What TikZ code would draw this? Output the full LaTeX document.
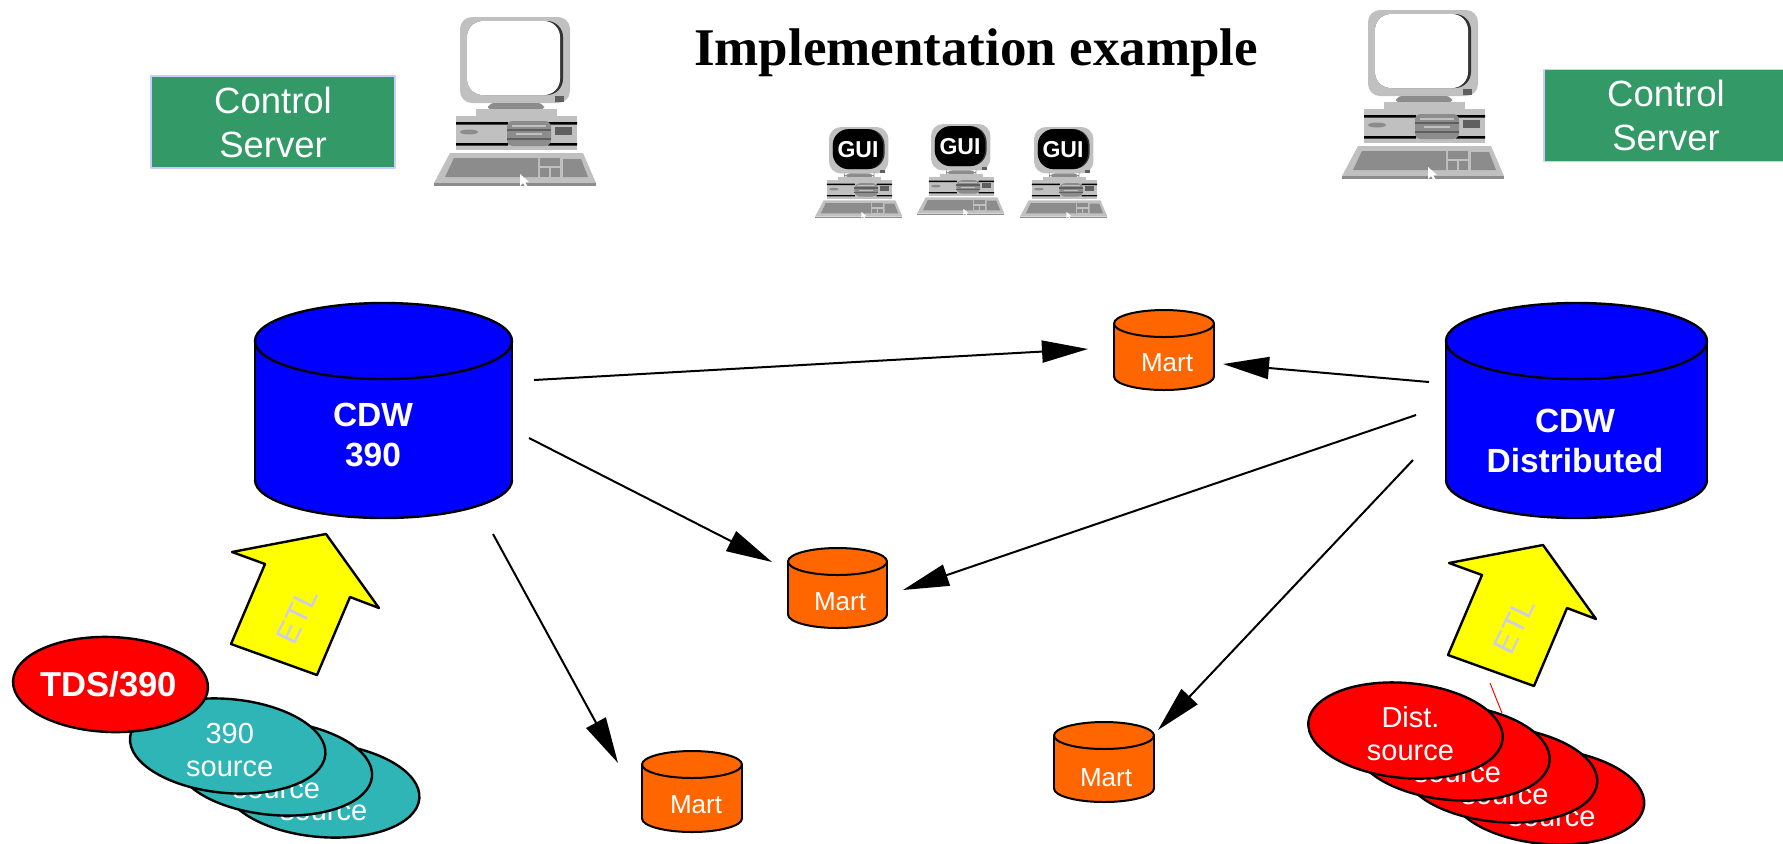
\documentclass[tikz,border=0pt]{standalone}
\usepackage{fontspec}
\setmainfont{Liberation Sans}
\newfontfamily\titlefont{Liberation Serif}
\usetikzlibrary{arrows.meta}

\definecolor{srvgreen}{HTML}{339966}
\definecolor{srvedge}{HTML}{CCCCFF}
\definecolor{dbblue}{HTML}{0000FF}
\definecolor{martorange}{HTML}{FF6600}
\definecolor{srcteal}{HTML}{2FB5B5}
\definecolor{srcred}{HTML}{FF0000}
\definecolor{etlyellow}{HTML}{FFFF00}
\definecolor{etltext}{HTML}{CCCCEE}
\definecolor{pclight}{HTML}{C0C0C0}
\definecolor{pcmid}{HTML}{8C8C8C}
\definecolor{pcdark}{HTML}{5F5F5F}

\tikzset{
  % desktop computer, origin at the top-left corner of the monitor
  pics/pc/.style={code={
    \fill[pclight, rounded corners=6] (0,0) rectangle (110,86);
    \fill[black!80, rounded corners=8] (7,4) rectangle (103,78);
    \fill[#1, rounded corners=8] (7,4) rectangle (100,78);
    \fill[pcdark] (95,79) rectangle (104,85);
    \fill[pcmid, rounded corners=3] (28,86) rectangle (84,94);
    \fill[pclight] (16,92) rectangle (97,99);
    \fill[pclight] (-4,99) rectangle (117,133);
    \fill[black] (-4,105) rectangle (48,107.5) (88,105) rectangle (117,107.5)
                 (-4,126) rectangle (48,128.5) (88,126) rectangle (117,128.5);
    \fill[pcmid, rounded corners=3] (47,104) rectangle (91,129);
    \fill[pclight] (52,108) rectangle (86,110);
    \fill[pcdark] (47,112) rectangle (91,114);
    \fill[pclight] (56,116) rectangle (82,118);
    \fill[pcdark] (47,121) rectangle (91,122.5);
    \fill[pcmid] (9,115) ellipse [x radius=9, y radius=2.5];
    \fill[pcdark] (95,110) rectangle (112,118);
    \fill[pclight] (-10,136) -- (123,136) -- (136,166) -- (-26,166) -- cycle;
    \fill[pcmid] (-26,166) rectangle (136,169);
    \fill[pcmid] (-6,141) -- (78,141) -- (78,160) -- (-15,160) -- cycle;
    \fill[pcmid] (80,141) rectangle (100,160);
    \fill[pcmid] (103,142) -- (121,142) -- (128,160) -- (103,160) -- cycle;
    \draw[pclight, line width=0.6pt] (80,150) -- (100,150) (90,150) -- (90,160);
    \fill[white] (60,157) -- (60,169) -- (63,166) -- (66,171) -- (68,170)
                 -- (65,165) -- (69,165) -- cycle;
  }},
  % database cylinder: x radius, y radius, body height, fill colour
  pics/db/.style n args={4}{code={
    \fill[#4] (-#1,0) rectangle (#1,#3);
    \fill[#4] (0,#3) ellipse [x radius=#1, y radius=#2];
    \begin{scope}
      \clip (-#1-4,#3) rectangle (#1+4,#3+#2+4);
      \draw (0,#3) ellipse [x radius=#1, y radius=#2];
    \end{scope}
    \draw (-#1,0) -- (-#1,#3) (#1,0) -- (#1,#3);
    \filldraw[fill=#4] (0,0) ellipse [x radius=#1, y radius=#2];
  }},
  srvbox/.style={fill=srvgreen, draw=srvedge, line width=0.6pt,
    minimum width=122pt, minimum height=46pt, text=white, align=center,
    font=\fontsize{18.25}{22}\selectfont},
  dblabel/.style={text=white, align=center,
    font=\bfseries\fontsize{16.75}{20}\selectfont},
  martlabel/.style={text=white, font=\fontsize{13}{15}\selectfont},
  srclabel/.style={text=white, align=center,
    font=\fontsize{14.5}{16.5}\selectfont},
  etllabel/.style={text=etltext, rotate=64, font=\fontsize{15.5}{17}\selectfont},
  guilabel/.style={text=white, font=\bfseries\fontsize{11.5}{13}\selectfont},
  conn/.style={line width=1pt, -{Triangle[length=23pt,width=11pt]}},
  blockarrow/.style={fill=etlyellow, draw=black, line width=1.2pt},
  srcshape/.style={draw=black, line width=1.2pt},
}

\begin{document}
\begin{tikzpicture}[x=0.5pt, y=-0.5pt, line join=round]
\useasboundingbox (0,0) rectangle (1783,843);
\clip (0,0) rectangle (1783,843);

% title and control servers
\node (title) at (976,53)
  {\titlefont\bfseries\fontsize{26.5}{30}\selectfont Implementation example};
\node[srvbox] (csleft) at (273,122) {Control\\Server};
\node[srvbox] (csright) at (1666,115.5) {Control\\Server};

% computers
\pic (pcleft) at (460,17) {pc=white};
\pic (pcright) at (1368,10) {pc=white};
\pic[scale=0.54] (gui1) at (829,127) {pc=black};
\pic[scale=0.54] (gui2) at (931,124) {pc=black};
\pic[scale=0.54] (gui3) at (1034,127) {pc=black};
\foreach \n/\x/\y in {g1/858/150, g2/960/147, g3/1063/150}
  \node[guilabel] (\n) at (\x,\y) {GUI};

% connector end points
\coordinate (s1) at (534,380);  \coordinate (t1) at (1088,349);
\coordinate (s2) at (1429,382); \coordinate (t2) at (1223,364);
\coordinate (s3) at (529,438);  \coordinate (t3) at (772,562);
\coordinate (s4) at (1416,415); \coordinate (t4) at (903,590);
\coordinate (s5) at (493,534);  \coordinate (t5) at (618,763);
\coordinate (s6) at (1413,460); \coordinate (t6) at (1158,730);
\draw[conn] (s1) -- (t1);
\draw[conn] (s2) -- (t2);
\draw[conn] (s3) -- (t3);
\draw[conn] (s4) -- (t4);
\draw[conn] (s5) -- (t5);
\draw[conn] (s6) -- (t6);

% central warehouses
\pic[line width=1.2pt] (cdw390) at (383.5,341) {db={128.5}{38}{139}{dbblue}};
\pic[line width=1.2pt] (cdwdist) at (1576.5,341) {db={130.5}{38}{139}{dbblue}};
\node[dblabel] (lcdw390) at (373,435) {CDW\\390};
\node[dblabel] (lcdwdist) at (1575,441) {CDW\\Distributed};

% data marts
\pic[line width=1pt] (mart1) at (1164,323.5) {db={50}{13.5}{53}{martorange}};
\pic[line width=1pt] (mart2) at (837.5,561.5) {db={49.5}{13.5}{53}{martorange}};
\pic[line width=1pt] (mart3) at (692,764.5) {db={50}{13.5}{54}{martorange}};
\pic[line width=1pt] (mart4) at (1104,735.5) {db={50}{13.5}{53}{martorange}};
\node[martlabel] (lmart1) at (1167,363) {Mart};
\node[martlabel] (lmart2) at (840,602) {Mart};
\node[martlabel] (lmart3) at (696,805) {Mart};
\node[martlabel] (lmart4) at (1106,778) {Mart};

% ETL block arrows
\draw[red, line width=0.5pt] (1490,683) -- (1502,713);
\filldraw[blockarrow] (231,644) -- (265,564) -- (232,552) -- (326,534)
  -- (379,608) -- (350,597) -- (317,675) -- cycle;
\filldraw[blockarrow] (1448,655) -- (1482,575) -- (1449,563) -- (1543,545)
  -- (1596,619) -- (1567,608) -- (1534,686) -- cycle;
\node[etllabel] (etlleft) at (297,616) {ETL};
\node[etllabel] (etlright) at (1514,626) {ETL};

% 390 sources
\foreach \cx/\cy/\n in {321.7/790/src3, 274.4/768/src2, 227.7/746/src1} {
  \filldraw[srcshape, fill=srcteal, rotate around={-5:(\cx,\cy)}]
    (\cx,\cy) ellipse [x radius=98, y radius=47];
  \node[srclabel] (\n) at (\cx+2,\cy+4) {390\\source};
}
\filldraw[srcshape, fill=srcred, rotate around={-2:(110.5,684.5)}]
  (110.5,684.5) ellipse [x radius=97.5, y radius=47.5];
\node[text=white, font=\bfseries\fontsize{17.3}{20}\selectfont] (tds) at (108.5,684) {TDS/390};

% distributed sources
\foreach \cx/\cy/\n in {1547/796.5/dsrc4, 1500/774.5/dsrc3, 1452.5/752.5/dsrc2, 1405.5/730.5/dsrc1} {
  \filldraw[srcshape, fill=srcred, rotate around={-5:(\cx,\cy)}]
    (\cx,\cy) ellipse [x radius=97.5, y radius=47.5];
  \node[srclabel] (\n) at (\cx+5,\cy+3) {Dist.\\source};
}
\end{tikzpicture}
\end{document}
